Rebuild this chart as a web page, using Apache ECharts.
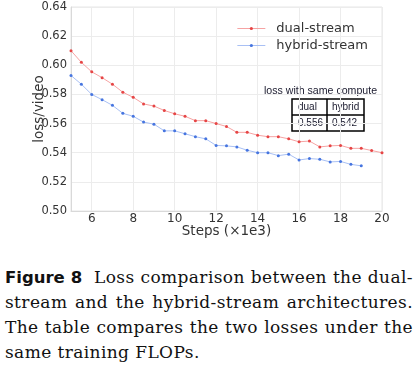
<!DOCTYPE html>
<html>
<head>
<meta charset="utf-8">
<script src="https://cdn.jsdelivr.net/npm/echarts@6/dist/echarts.min.js"></script>
<style>
  html, body { margin: 0; padding: 0; background: #fff; width: 416px; height: 367px; overflow: hidden; }
  #chart { position: absolute; left: 0; top: 0; width: 416px; height: 245px; }
  #caption { position: absolute; left: 5px; top: 265px; width: 408px; font-family: "DejaVu Serif", serif; font-size: 17px; letter-spacing: 0.4px; color: #111; }
  #caption .ln { height: 25px; line-height: 25px; text-align: justify; text-align-last: justify; white-space: nowrap; }
  #caption .last { text-align: left; text-align-last: left; }
  #caption b { font-family: "DejaVu Sans", sans-serif; font-weight: bold; font-size: 16.5px; letter-spacing: 0; }
</style>
</head>
<body>
<div id="chart"></div>
<div id="caption">
  <div class="ln"><b>Figure 8</b>&nbsp; Loss comparison between the dual-</div>
  <div class="ln">stream and the hybrid-stream architectures.</div>
  <div class="ln">The table compares the two losses under the</div>
  <div class="ln last">same training FLOPs.</div>
</div>
<script>
const steps = [5,5.5,6,6.5,7,7.5,8,8.5,9,9.5,10,10.5,11,11.5,12,12.5,13,13.5,14,14.5,15,15.5,16,16.5,17,17.5,18,18.5,19,19.5,20];
const dualStream = [0.610,0.602,0.5955,0.5915,0.587,0.5815,0.578,0.5735,0.572,0.569,0.5667,0.565,0.562,0.562,0.560,0.558,0.554,0.554,0.552,0.551,0.551,0.5495,0.5475,0.548,0.544,0.5447,0.545,0.543,0.543,0.5415,0.540];
const hybridStream = [0.593,0.587,0.580,0.5764,0.5725,0.567,0.565,0.561,0.5596,0.555,0.555,0.553,0.551,0.5495,0.545,0.5447,0.544,0.5417,0.540,0.540,0.538,0.539,0.535,0.536,0.5355,0.5337,0.534,0.532,0.531];
const seriesNames = ['dual-stream', 'hybrid-stream'];
const yTicks = [0.50, 0.52, 0.54, 0.56, 0.58, 0.60, 0.62, 0.64];
const tableTitle = 'loss with same compute';
const tableHeader = ['dual', 'hybrid'];
const tableValues = ['0.556', '0.542'];

const dotColors = ['#e64545', '#4675e0'];
const lineColors = ['#f6a3a3', '#a9c0f4'];

const chart = echarts.init(document.getElementById('chart'), null, { renderer: 'canvas' });
const pairs = (ys) => ys.map((v, i) => [steps[i], v]);
const tx = 292, ty = 99, cw = [35, 37], rh = 16;
const tf = '"Liberation Sans", Arial, sans-serif';
const graphics = [
  { type: 'text', left: 264, top: 86, style: { text: tableTitle, font: '10.6px ' + tf, fill: '#1a1a2e' } },
  { type: 'rect', shape: { x: tx, y: ty, width: cw[0] + cw[1], height: rh * 2 }, style: { fill: '#fff', stroke: '#000', lineWidth: 1.5 } },
  { type: 'line', shape: { x1: tx, y1: ty + rh, x2: tx + cw[0] + cw[1], y2: ty + rh }, style: { stroke: '#000', lineWidth: 1.5 } },
  { type: 'line', shape: { x1: tx + cw[0], y1: ty, x2: tx + cw[0], y2: ty + rh * 2 }, style: { stroke: '#000', lineWidth: 1.5 } },
  { type: 'text', x: tx + 6, y: ty + rh / 2, style: { text: tableHeader[0], font: '10px ' + tf, fill: '#1a1a2e', verticalAlign: 'middle' } },
  { type: 'text', x: tx + cw[0] + 5, y: ty + rh / 2, style: { text: tableHeader[1], font: '10px ' + tf, fill: '#1a1a2e', verticalAlign: 'middle' } },
  { type: 'text', x: tx + 6, y: ty + rh * 1.5, style: { text: tableValues[0], font: '10px ' + tf, fill: '#1a1a2e', verticalAlign: 'middle' } },
  { type: 'text', x: tx + cw[0] + 5, y: ty + rh * 1.5, style: { text: tableValues[1], font: '10px ' + tf, fill: '#1a1a2e', verticalAlign: 'middle' } }
];

chart.setOption({
  animation: false,
  grid: { left: 71, right: 34, top: 7, bottom: 34, outerBoundsMode: 'none', containLabel: false, show: true, borderColor: '#e6e6e6', borderWidth: 1 },
  legend: {
    orient: 'vertical', right: 43, top: 17, itemWidth: 28, itemHeight: 4, itemGap: 4,
    textStyle: { fontFamily: 'DejaVu Sans', fontSize: 13, color: '#333', padding: [0, 0, 0, 6] },
    data: seriesNames.map((n, i) => ({ name: n, itemStyle: { color: dotColors[i] }, lineStyle: { color: lineColors[i], width: 1 } }))
  },
  xAxis: {
    type: 'value', min: 5, max: 20, interval: 1,
    name: 'Steps (×1e3)', nameLocation: 'middle', nameGap: 13, nameMoveOverlap: false,
    nameTextStyle: { fontFamily: 'DejaVu Sans', fontSize: 13.5, color: '#333' },
    axisLine: { show: true, lineStyle: { color: '#d9d9d9' } },
    axisTick: { show: false },
    axisLabel: { fontFamily: 'DejaVu Sans', fontSize: 12, color: '#333', margin: 2,
      formatter: (v) => (v % 2 === 0 ? String(v) : '') },
    splitLine: { show: true, lineStyle: { color: ['rgba(0,0,0,0)', '#ececec'], width: 1 } }
  },
  yAxis: {
    type: 'value', min: 0.50, max: 0.64, interval: 0.02,
    name: 'loss/video', nameLocation: 'middle', nameGap: 25, nameMoveOverlap: false,
    nameTextStyle: { fontFamily: 'DejaVu Sans', fontSize: 13.5, color: '#333' },
    axisLine: { show: true, lineStyle: { color: '#d9d9d9' } },
    axisTick: { show: false },
    axisLabel: { fontFamily: 'DejaVu Sans', fontSize: 11.5, color: '#333', margin: 4,
      formatter: (v) => v.toFixed(2) },
    splitLine: { show: true, lineStyle: { color: '#ececec', width: 1 } }
  },
  series: [
    { name: seriesNames[0], type: 'line', data: pairs(dualStream), symbol: 'circle', symbolSize: 3,
      itemStyle: { color: dotColors[0] }, lineStyle: { color: lineColors[0], width: 1 } },
    { name: seriesNames[1], type: 'line', data: pairs(hybridStream), symbol: 'circle', symbolSize: 3,
      itemStyle: { color: dotColors[1] }, lineStyle: { color: lineColors[1], width: 1 } }
  ],
  graphic: graphics
});
</script>
</body>
</html>
